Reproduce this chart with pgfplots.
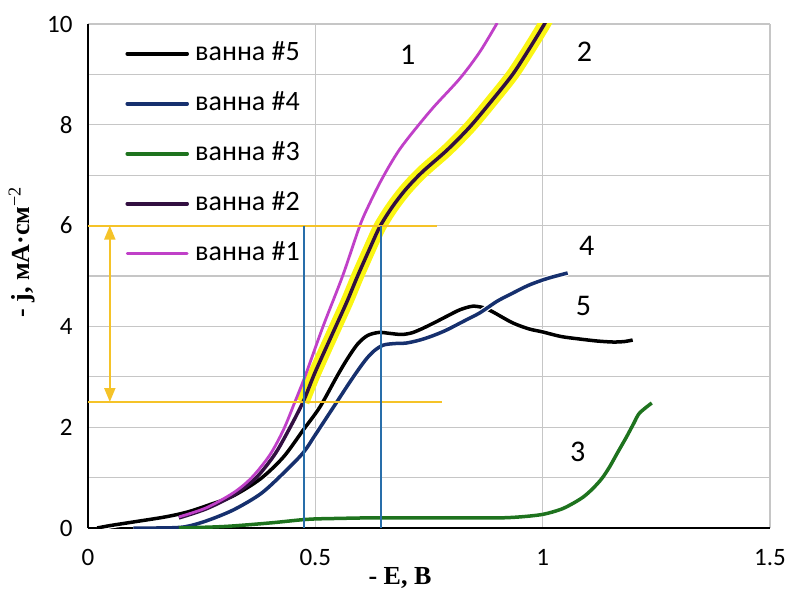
\documentclass[border=0pt]{standalone}
\usepackage{fontspec}
\setmainfont{Carlito}
\newfontfamily\lab{Liberation Serif}
\usepackage{pgfplots}
\pgfplotsset{compat=1.18}
\usetikzlibrary{arrows.meta,calc}
\definecolor{c5}{RGB}{0,0,0}
\definecolor{c4}{RGB}{22,48,110}
\definecolor{c3}{RGB}{30,115,30}
\definecolor{c2}{RGB}{50,15,65}
\definecolor{c1}{RGB}{192,64,200}
\definecolor{gold}{RGB}{245,195,40}
\definecolor{hl}{RGB}{250,245,20}
\definecolor{vb}{RGB}{40,110,170}
\begin{document}
\begin{tikzpicture}
\begin{axis}[name=ax, scale only axis, width=682pt, height=504pt,
  xmin=0, xmax=1.5, ymin=0, ymax=10,
  xtick={0,0.5,1,1.5}, ytick={0,2,...,10}, minor ytick={1,3,...,9},
  grid=both, grid style={gray!45, line width=1.2pt},
  minor grid style={gray!45, line width=1.2pt},
  major tick length=0pt, minor tick length=0pt,
  axis x line*=bottom, axis y line*=left,
  axis line style={black, line width=1.6pt, -},
  tick label style={font=\fontsize{25}{25}\selectfont},
  /pgf/number format/assume math mode=true,
  xticklabel style={yshift=-18pt},
  yticklabel style={xshift=-12pt},
  legend cell align=left,
  legend style={draw=none, fill=none, at={(rel axis cs:0.0484,0.970)}, anchor=north west,
    font=\fontsize{28}{28}\selectfont, row sep=25pt, column sep=5pt,
    nodes={inner sep=0pt, text height=19pt, text depth=6pt}},
  legend image code/.code={\draw[#1, line cap=round] (0pt,0pt) -- (60pt,0pt);},
]
% yellow highlight under curve 2
\addplot[hl, line width=13pt, smooth, forget plot] coordinates {
(0.473,2.5)(0.5,3.1)(0.545,4.0)(0.57,4.5)(0.593,5.0)(0.62,5.55)(0.642,5.98)(0.67,6.38)(0.7,6.73)(0.736,7.07)(0.79,7.5)(0.84,7.96)(0.89,8.5)(0.934,9.0)(0.97,9.5)(1.0,9.94)(1.01,10.1)};
% ванна #5
\addplot[c5, line width=3.5pt, smooth, preaction={draw=white, line width=6pt}] coordinates {
(0.02,0)(0.05,0.05)(0.1,0.12)(0.17,0.22)(0.22,0.32)(0.27,0.47)(0.32,0.64)(0.38,0.98)(0.43,1.41)(0.473,1.94)(0.51,2.4)(0.547,3.0)(0.57,3.35)(0.593,3.65)(0.615,3.82)(0.64,3.88)(0.665,3.86)(0.69,3.84)(0.715,3.88)(0.75,4.02)(0.789,4.2)(0.818,4.33)(0.846,4.4)(0.87,4.37)(0.89,4.29)(0.934,4.07)(0.97,3.95)(1.0,3.89)(1.04,3.8)(1.081,3.75)(1.12,3.71)(1.155,3.69)(1.18,3.7)(1.198,3.73)};
\addlegendentry{ванна \#5}
% ванна #4
\addplot[c4, line width=3.5pt, smooth, preaction={draw=white, line width=6pt}] coordinates {
(0.1,0)(0.15,0)(0.21,0.02)(0.26,0.14)(0.32,0.36)(0.38,0.68)(0.43,1.09)(0.473,1.49)(0.5,1.85)(0.54,2.4)(0.58,2.95)(0.61,3.33)(0.63,3.52)(0.65,3.63)(0.675,3.66)(0.7,3.67)(0.73,3.73)(0.76,3.82)(0.789,3.93)(0.83,4.12)(0.862,4.27)(0.9,4.5)(0.934,4.66)(0.97,4.82)(1.01,4.95)(1.055,5.06)};
\addlegendentry{ванна \#4}
% ванна #3
\addplot[c3, line width=3.5pt, smooth] coordinates {
(0.2,0)(0.3,0.03)(0.4,0.1)(0.466,0.16)(0.5,0.18)(0.55,0.19)(0.613,0.2)(0.7,0.2)(0.8,0.2)(0.9,0.2)(0.95,0.22)(1.0,0.27)(1.04,0.37)(1.067,0.49)(1.09,0.62)(1.11,0.78)(1.13,0.98)(1.147,1.21)(1.165,1.5)(1.184,1.8)(1.2,2.07)(1.213,2.28)(1.24,2.48)};
\addlegendentry{ванна \#3}
% ванна #2
\addplot[c2, line width=3.5pt, smooth] coordinates {
(0.2,0.2)(0.26,0.38)(0.32,0.65)(0.37,1.0)(0.41,1.45)(0.44,1.92)(0.473,2.5)(0.5,3.1)(0.545,4.0)(0.57,4.5)(0.593,5.0)(0.62,5.55)(0.642,5.98)(0.67,6.38)(0.7,6.73)(0.736,7.07)(0.79,7.5)(0.84,7.96)(0.89,8.5)(0.934,9.0)(0.97,9.5)(1.0,9.94)(1.01,10.1)};
\addlegendentry{ванна \#2}
% ванна #1
\addplot[c1, line width=2.8pt, smooth] coordinates {
(0.2,0.22)(0.26,0.4)(0.32,0.7)(0.36,1.0)(0.4,1.45)(0.43,1.95)(0.455,2.5)(0.477,3.0)(0.517,4.0)(0.56,5.0)(0.598,6.0)(0.62,6.45)(0.642,6.85)(0.665,7.22)(0.686,7.52)(0.714,7.85)(0.76,8.35)(0.818,8.92)(0.862,9.45)(0.9,10.02)};
\addlegendentry{ванна \#1}
% annotation lines
\addplot[gold, line width=2pt, forget plot] coordinates {(0,6)(0.767,6)};
\addplot[gold, line width=2pt, forget plot] coordinates {(0,2.5)(0.778,2.5)};
\addplot[gold, line width=2pt, {Triangle[width=11pt,length=14pt]}-{Triangle[width=11pt,length=14pt]}, forget plot] coordinates {(0.048,6)(0.048,2.5)};
\addplot[vb, line width=1.5pt, forget plot] coordinates {(0.475,0)(0.475,6)};
\addplot[vb, line width=1.5pt, forget plot] coordinates {(0.644,0)(0.644,6)};
% curve numbers
\node[font=\fontsize{30}{30}\selectfont] at (axis cs:0.703,9.38) {1};
\node[font=\fontsize{30}{30}\selectfont] at (axis cs:1.092,9.44) {2};
\node[font=\fontsize{30}{30}\selectfont] at (axis cs:1.097,5.6) {4};
\node[font=\fontsize{30}{30}\selectfont] at (axis cs:1.09,4.4) {5};
\node[font=\fontsize{30}{30}\selectfont] at (axis cs:1.077,1.51) {3};
\end{axis}
\node[font=\lab\bfseries\fontsize{26}{26}\selectfont] at ($(ax.south west)+(312pt,-50pt)$) {- E, В};
\node[font=\lab\bfseries\fontsize{26}{26}\selectfont, rotate=90] at ($(ax.south west)+(-66pt,276pt)$) {- j, мА·см\textsuperscript{\mdseries −2}};
\pgfresetboundingbox
\path[use as bounding box] ($(ax.south west)+(-88pt,-64pt)$) rectangle ($(ax.north east)+(20pt,24pt)$);
\end{tikzpicture}
\end{document}
